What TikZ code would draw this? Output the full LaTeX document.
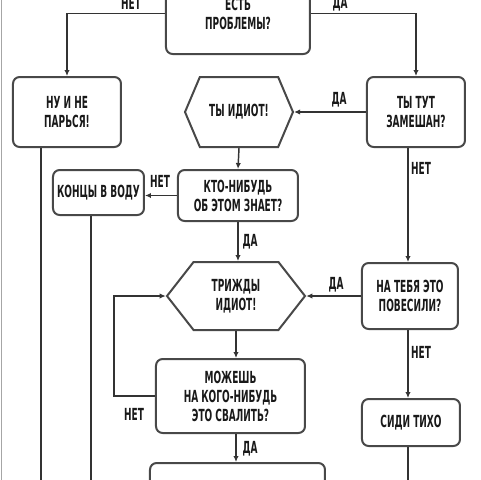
\documentclass[tikz,border=0pt]{standalone}
\usepackage{fontspec}
\usepackage{xcolor}
\usetikzlibrary{arrows.meta,shapes.symbols}
\newfontfamily\flowfont{DejaVu Sans Condensed}[FakeStretch=0.6]
\definecolor{linegray}{HTML}{333333}
\definecolor{boxgray}{HTML}{484848}

\begin{document}
\begin{tikzpicture}[x=0.75pt, y=-0.75pt,
    font=\flowfont\bfseries\fontsize{12.5}{14.2}\selectfont,
    box/.style={draw=boxgray, line width=1.5pt, rounded corners=5pt, align=center, text=black!90, inner sep=2pt},
    hexa/.style={draw=boxgray, line width=1.5pt, shape=signal, signal to=west and east, align=center, text=black!90, inner sep=2pt},
    arr/.style={draw=linegray, line width=1.1pt, -{Latex[length=4.5pt,width=4pt]}},
    wire/.style={draw=linegray, line width=1.1pt},
    lbl/.style={text=black!90}]
  % Fix the frame
  \useasboundingbox (0,0) rectangle (480,480);
  \draw[gray!70, line width=1.2pt] (1.5,0) -- (1.5,480);

  % Boxes of the first rows
  \node[box, minimum width=108pt, minimum height=60.75pt] (prob) at (238,13.5) {ЕСТЬ\\ПРОБЛЕМЫ?};
  \node[box, minimum width=81pt, minimum height=52.5pt] (nu) at (67,112) {НУ И НЕ\\ПАРЬСЯ!};
  \node[hexa, signal pointer angle=134, minimum width=81pt, minimum height=52.5pt] (idiot) at (239,112) {ТЫ ИДИОТ!};
  \node[box, minimum width=73.5pt, minimum height=52.5pt] (zam) at (416,112) {ТЫ ТУТ\\ЗАМЕШАН?};
  \node[box, minimum width=90pt, minimum height=38.25pt] (knows) at (238,195.5) {КТО-НИБУДЬ\\ОБ ЭТОМ ЗНАЕТ?};
  \node[box, minimum width=68.25pt, minimum height=33.75pt] (water) at (98.5,192.5) {КОНЦЫ В ВОДУ};

  % Boxes of the lower rows
  \node[hexa, signal pointer angle=104, minimum width=103.5pt, minimum height=51pt] (trindy) at (236,296) {ТРИЖДЫ\\ИДИОТ!};
  \node[box, minimum width=72pt, minimum height=49.5pt] (hang) at (410,296) {НА ТЕБЯ ЭТО\\ПОВЕСИЛИ?};
  \node[box, minimum width=73.5pt, minimum height=35.25pt] (sit) at (411,422.5) {СИДИ ТИХО};
  \node[box, minimum width=111.75pt, minimum height=55.5pt] (blame) at (230.5,396) {МОЖЕШЬ\\НА КОГО-НИБУДЬ\\ЭТО СВАЛИТЬ?};
  \node[box, minimum width=131.25pt, minimum height=45pt] (last) at (237.5,493) {};

  % Loose ends at the bottom
  \coordinate (nuend) at (41,485);
  \coordinate (waterend) at (91,485);
  \coordinate (sitend) at (408,485);

  % Connectors
  \draw[arr] (prob.west) -| (nu.north);
  \draw[arr] (prob.east) -| (zam.north);
  \draw[arr] (zam.west) -- (idiot.east);
  \draw[arr] (idiot.south) -- (knows.north);
  \draw[arr] (knows.west) -- (knows.west -| water.east);
  \draw[arr] (knows.south) -- (knows.south |- trindy.north);
  \draw[arr] (sitend |- zam.south) -- (sitend |- hang.north);
  \draw[arr] (hang.west) -- (trindy.east);
  \draw[arr] (sitend |- hang.south) -- (sitend |- sit.north);
  \draw[arr] (trindy.south) -- (trindy.south |- blame.north);
  \draw[arr] (blame.west) -- ++(-41,0) |- (trindy.west);
  \draw[arr] (trindy.south |- blame.south) -- (trindy.south |- last.north);
  \draw[wire] (nu.south -| nuend) -- (nuend);
  \draw[wire] (water.south -| waterend) -- (waterend);
  \draw[wire] (sit.south -| sitend) -- (sitend);

  % Labels
  \node[lbl] (no1) at (131,3) {НЕТ};
  \node[lbl] (yes1) at (340,4) {ДА};
  \node[lbl] (yes2) at (339,100) {ДА};
  \node[lbl] (no2) at (421,168) {НЕТ};
  \node[lbl] (no3) at (160,181) {НЕТ};
  \node[lbl] (yes3) at (250,242) {ДА};
  \node[lbl] (yes4) at (336,285) {ДА};
  \node[lbl] (no4) at (421,352) {НЕТ};
  \node[lbl] (no5) at (134,414) {НЕТ};
  \node[lbl] (yes5) at (250,449) {ДА};
\end{tikzpicture}
\end{document}
